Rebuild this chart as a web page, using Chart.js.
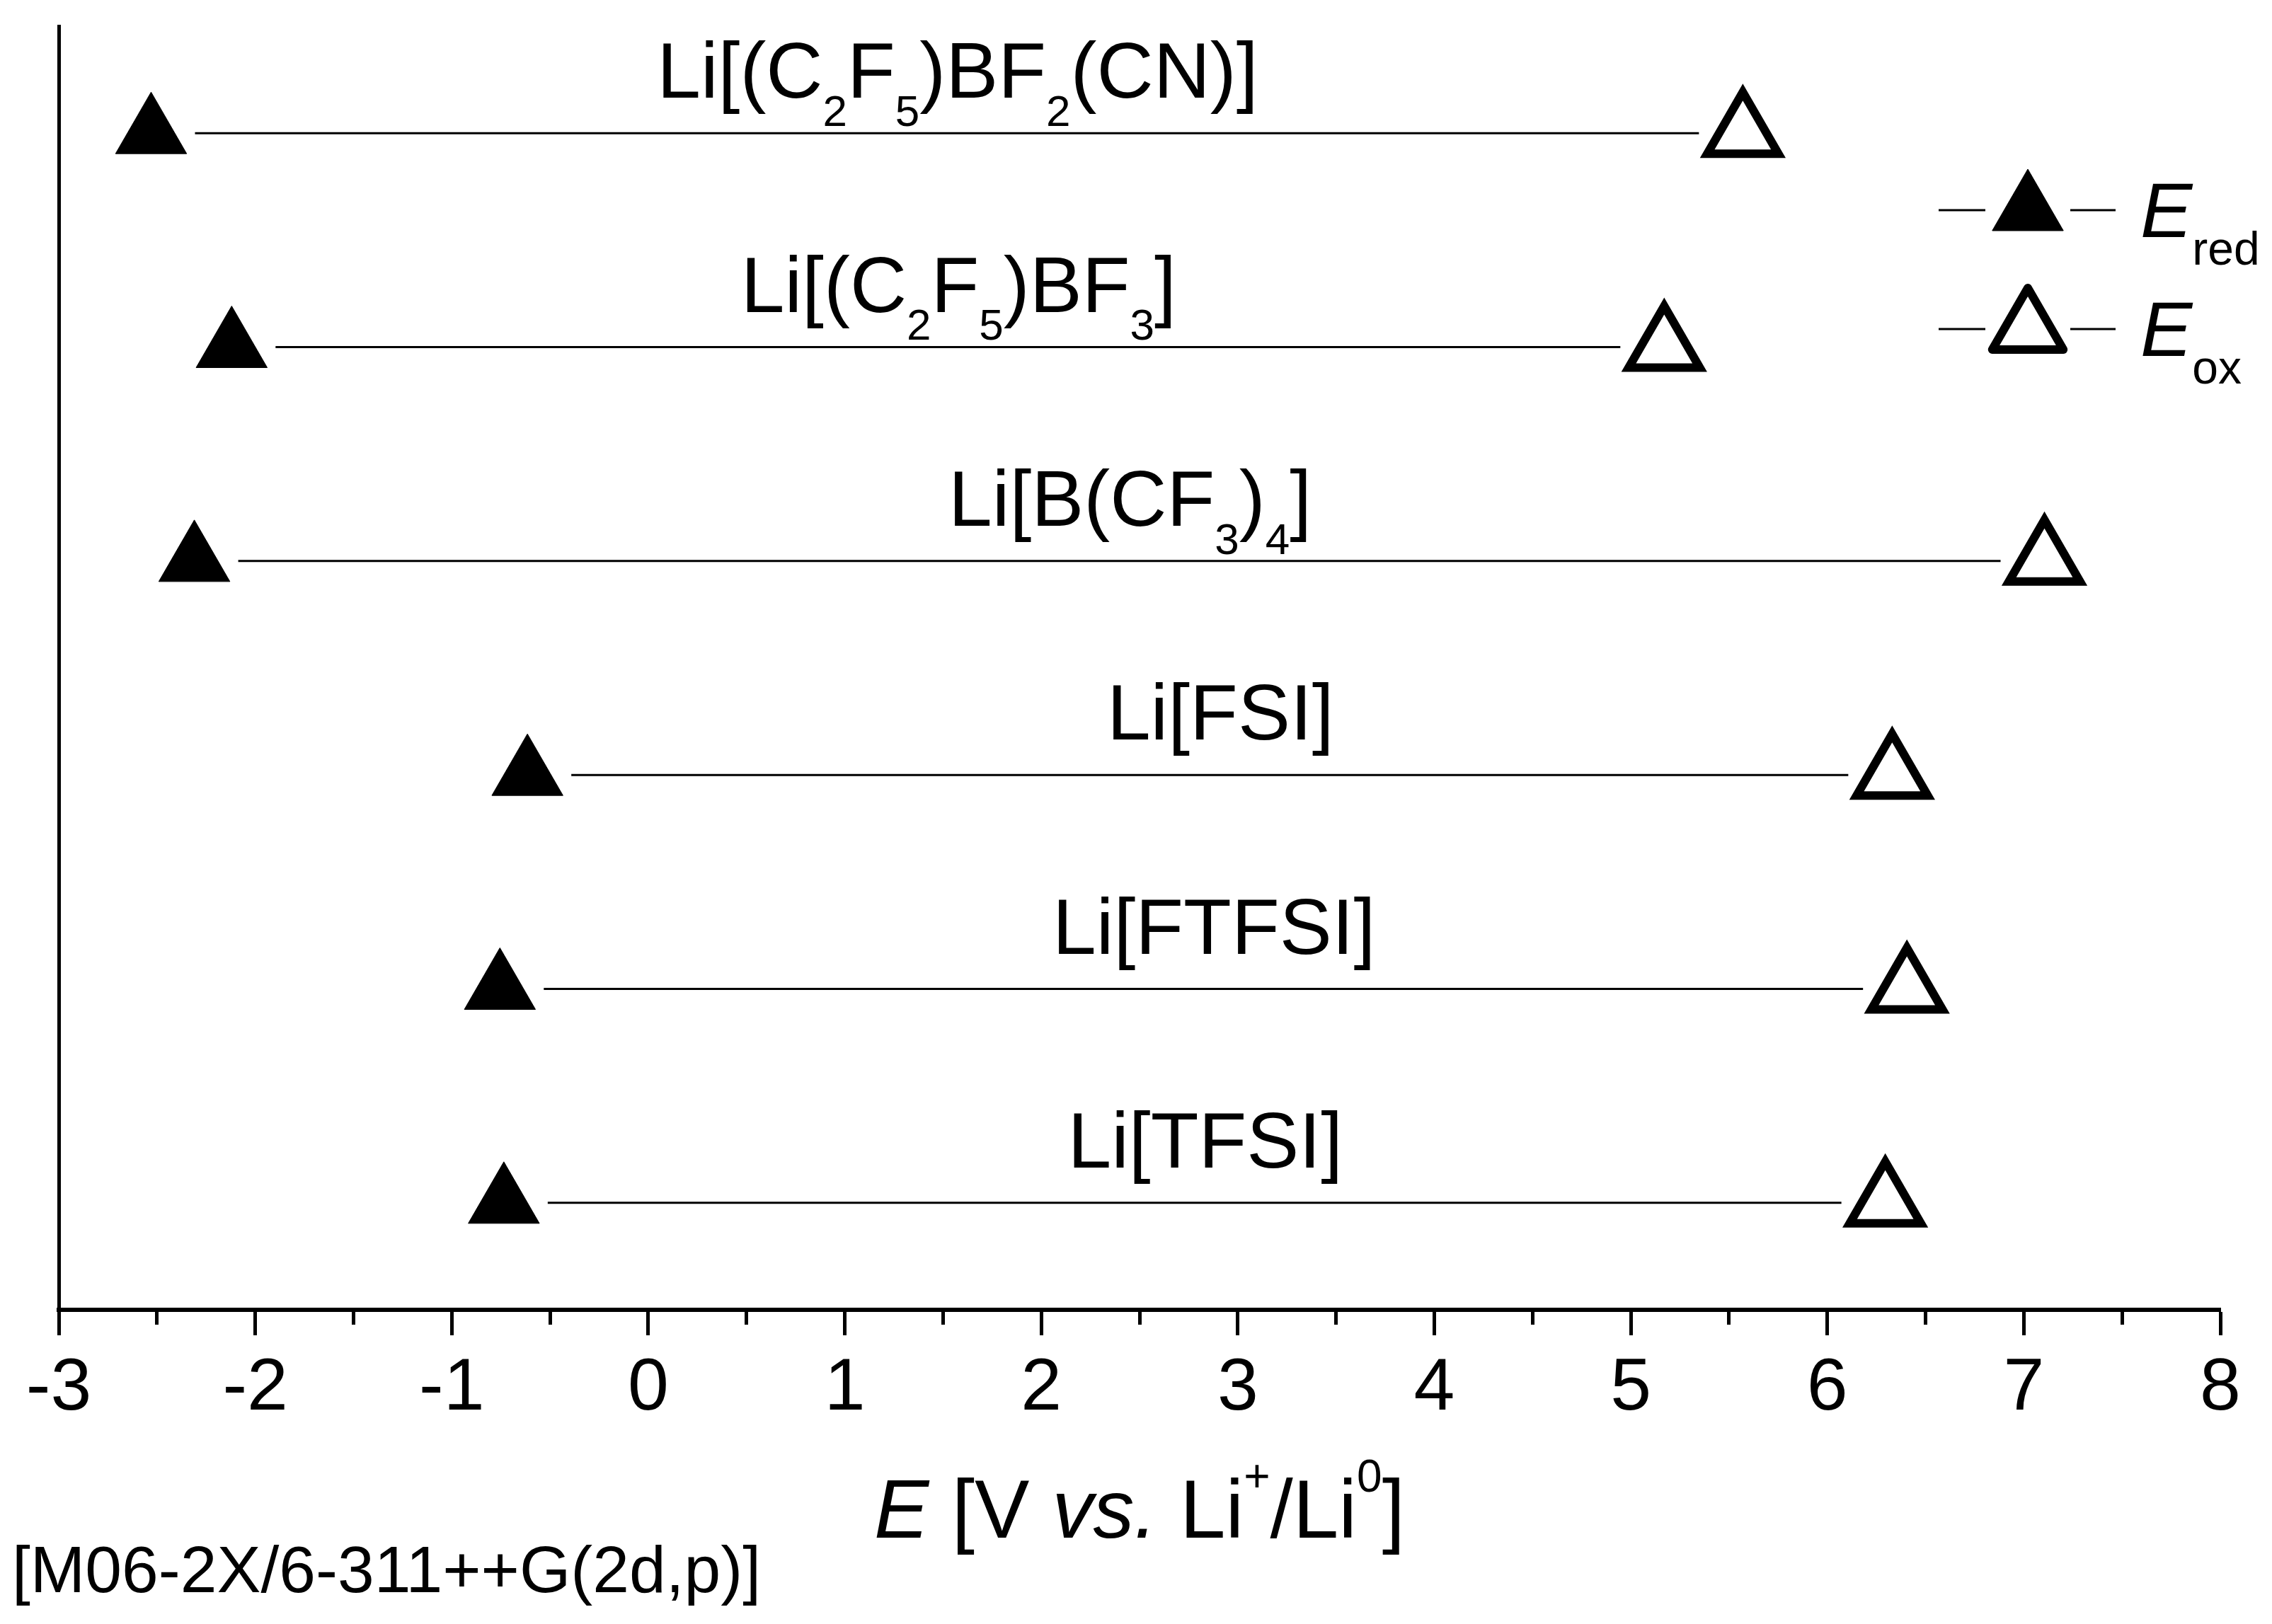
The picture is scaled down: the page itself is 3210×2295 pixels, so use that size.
<!DOCTYPE html>
<html>
<head>
<meta charset="utf-8">
<title>Electrochemical windows</title>
<script src="https://cdn.jsdelivr.net/npm/chart.js@4.4.1/dist/chart.umd.min.js"></script>
<style>
  html, body { margin: 0; padding: 0; background: #fff; }
  canvas { display: block; }
</style>
</head>
<body>
<canvas id="windowChart" width="3210" height="2295"></canvas>
<script>
// salts, top to bottom ("_" = subscript, "{...}" groups)
var salts = ['Li[(C_2F_5)BF_2(CN)]', 'Li[(C_2F_5)BF_3]', 'Li[B(CF_3)_4]', 'Li[FSI]', 'Li[FTFSI]', 'Li[TFSI]'];
// reduction / oxidation potentials, V vs Li+/Li0
var eRed = [-2.53, -2.12, -2.31, -0.615, -0.755, -0.735];
var eOx = [5.57, 5.17, 7.105, 6.33, 6.405, 6.295];
var xMin = -3, xMax = 8;
var legendLabels = ['*E*_{red}', '*E*_{ox}'];
var xTitle = '*E* [V *vs.* Li^+/Li^0]';
var methodNote = '[M06-2X/6-311++G(2d,p)]';

var FAMILY = '"Liberation Sans", Arial, Helvetica, sans-serif';

var MARK_R = 58;
var GAP = 62;

function parseRich(str) {
    var segs = [];
    var italic = false;
    for (var i = 0; i < str.length; i++) {
        var c = str[i];
        if (c === '*') { italic = !italic; continue; }
        if (c === '_' || c === '^') {
            var kind = c === '_' ? 'sub' : 'sup';
            var t = str[++i];
            if (t === '{') {
                var end = str.indexOf('}', i);
                t = str.slice(i + 1, end);
                i = end;
            }
            segs.push({ t: t, k: kind, it: italic });
            continue;
        }
        var last = segs[segs.length - 1];
        if (last && last.k === 'n' && last.it === italic) last.t += c;
        else segs.push({ t: c, k: 'n', it: italic });
    }
    return segs;
}

function drawRich(ctx, str, x, y, size, align, opts) {
    opts = opts || {};
    var subScale = opts.subScale || 0.55;
    var subDrop = opts.subDrop || 0.36;
    var supRise = opts.supRise || 0.56;
    var segs = parseRich(str);
    function fontFor(s) {
        var sz = s.k === 'n' ? size : Math.round(size * subScale);
        return (s.it ? 'italic ' : '') + sz + 'px ' + FAMILY;
    }
    var w = 0;
    segs.forEach(function(s) {
        ctx.font = fontFor(s);
        s.w = ctx.measureText(s.t).width;
        w += s.w;
    });
    ctx.save();
    ctx.textAlign = 'left';
    ctx.textBaseline = 'alphabetic';
    ctx.fillStyle = '#000';
    var cx = x + (align === 'center' ? -w / 2 : (align === 'right' ? -w : 0));
    segs.forEach(function(s) {
        ctx.font = fontFor(s);
        var dy = s.k === 'sub' ? size * subDrop : (s.k === 'sup' ? -size * supRise : 0);
        ctx.fillText(s.t, cx, y + dy);
        cx += s.w;
    });
    ctx.restore();
}

function triangle(ctx, x, y, r, filled, lw) {
    ctx.save();
    ctx.beginPath();
    for (var k = 0; k < 3; k++) {
        var a = k * 2 * Math.PI / 3;
        var px = x + Math.sin(a) * r, py = y - Math.cos(a) * r;
        if (k === 0) ctx.moveTo(px, py); else ctx.lineTo(px, py);
    }
    ctx.closePath();
    ctx.fillStyle = filled ? '#000' : '#fff';
    ctx.fill();
    ctx.lineJoin = 'round';
    ctx.strokeStyle = '#000';
    ctx.lineWidth = lw;
    ctx.stroke();
    ctx.restore();
}

var connectors = {
    id: 'connectors',
    beforeDatasetsDraw: function(chart) {
        var ctx = chart.ctx, x = chart.scales.x, y = chart.scales.y;
        ctx.save();
        ctx.strokeStyle = '#000';
        ctx.lineWidth = 3;
        salts.forEach(function(name, i) {
            var py = y.getPixelForValue(i + 1);
            ctx.beginPath();
            ctx.moveTo(x.getPixelForValue(eRed[i]) + GAP, py);
            ctx.lineTo(x.getPixelForValue(eOx[i]) - GAP, py);
            ctx.stroke();
        });
        ctx.restore();
    }
};

var annotations = {
    id: 'annotations',
    afterDraw: function(chart) {
        var ctx = chart.ctx, x = chart.scales.x, y = chart.scales.y;
        var area = chart.chartArea;
        // salt names above each window
        salts.forEach(function(name, i) {
            var py = y.getPixelForValue(i + 1);
            var mid = x.getPixelForValue((eRed[i] + eOx[i]) / 2);
            drawRich(ctx, name, mid + 15, py - 50, 111, 'center', { subScale: 0.56, subDrop: 0.36 });
        });
        // legend
        var lx = 2865, rows = [297, 465];
        legendLabels.forEach(function(lab, i) {
            var ly = rows[i];
            ctx.save();
            ctx.strokeStyle = '#000';
            ctx.lineWidth = 3;
            ctx.beginPath();
            ctx.moveTo(lx - 126, ly); ctx.lineTo(lx - 60, ly);
            ctx.moveTo(lx + 60, ly); ctx.lineTo(lx + 124, ly);
            ctx.stroke();
            ctx.restore();
            if (i === 0) triangle(ctx, lx, ly, MARK_R, true, 1);
            else triangle(ctx, lx, ly, MARK_R, false, 12);
            drawRich(ctx, lab, 3024, ly + 38, 110, 'left', { subScale: 0.6, subDrop: 0.35 });
        });
        // axis title
        drawRich(ctx, xTitle, (area.left + area.right) / 2, 2173, 116, 'center', { subScale: 0.55, supRise: 0.56 });
        // method note
        drawRich(ctx, methodNote, 17, 2250, 93, 'left');
    }
};

var redPoints = salts.map(function(s, i) { return { x: eRed[i], y: i + 1 }; });
var oxPoints = salts.map(function(s, i) { return { x: eOx[i], y: i + 1 }; });

var chartCtx = document.getElementById('windowChart').getContext('2d');
var windowChart = new Chart(chartCtx, {
    type: 'scatter',
    data: {
        datasets: [{
            label: 'E red',
            data: redPoints,
            pointStyle: 'triangle',
            pointRadius: MARK_R,
            pointHoverRadius: MARK_R,
            backgroundColor: '#000',
            borderColor: '#000',
            borderWidth: 1
        }, {
            label: 'E ox',
            data: oxPoints,
            pointStyle: 'triangle',
            pointRadius: MARK_R,
            pointHoverRadius: MARK_R,
            backgroundColor: '#fff',
            borderColor: '#000',
            borderWidth: 12
        }]
    },
    options: {
        responsive: false,
        animation: false,
        devicePixelRatio: 1,
        clip: false,
        layout: { autoPadding: false, padding: { top: 37, right: 73, left: 0, bottom: 0 } },
        plugins: {
            legend: { display: false },
            tooltip: { enabled: false }
        },
        scales: {
            x: {
                type: 'linear',
                min: xMin,
                max: xMax,
                ticks: {
                    stepSize: 0.5,
                    autoSkip: false,
                    maxRotation: 0,
                    padding: 14,
                    color: '#000',
                    font: { family: FAMILY, size: 104 },
                    callback: function(v) { return Number.isInteger(v) ? String(v) : ''; }
                },
                grid: {
                    display: true,
                    drawOnChartArea: false,
                    drawTicks: true,
                    tickLength: 36,
                    tickWidth: 5,
                    tickColor: '#000',
                    tickBorderDash: function(c) {
                        return (c.tick && !Number.isInteger(c.tick.value)) ? [18, 200] : [];
                    }
                },
                border: { display: true, color: '#000', width: 6 },
                afterFit: function(s) { s.height = 444; }
            },
            y: {
                type: 'linear',
                min: 0.5,
                max: 6.5,
                reverse: true,
                ticks: { display: false },
                grid: { display: false },
                border: { display: true, color: '#000', width: 5 },
                afterFit: function(s) { s.width = 83; }
            }
        }
    },
    plugins: [connectors, annotations]
});
</script>
</body>
</html>
